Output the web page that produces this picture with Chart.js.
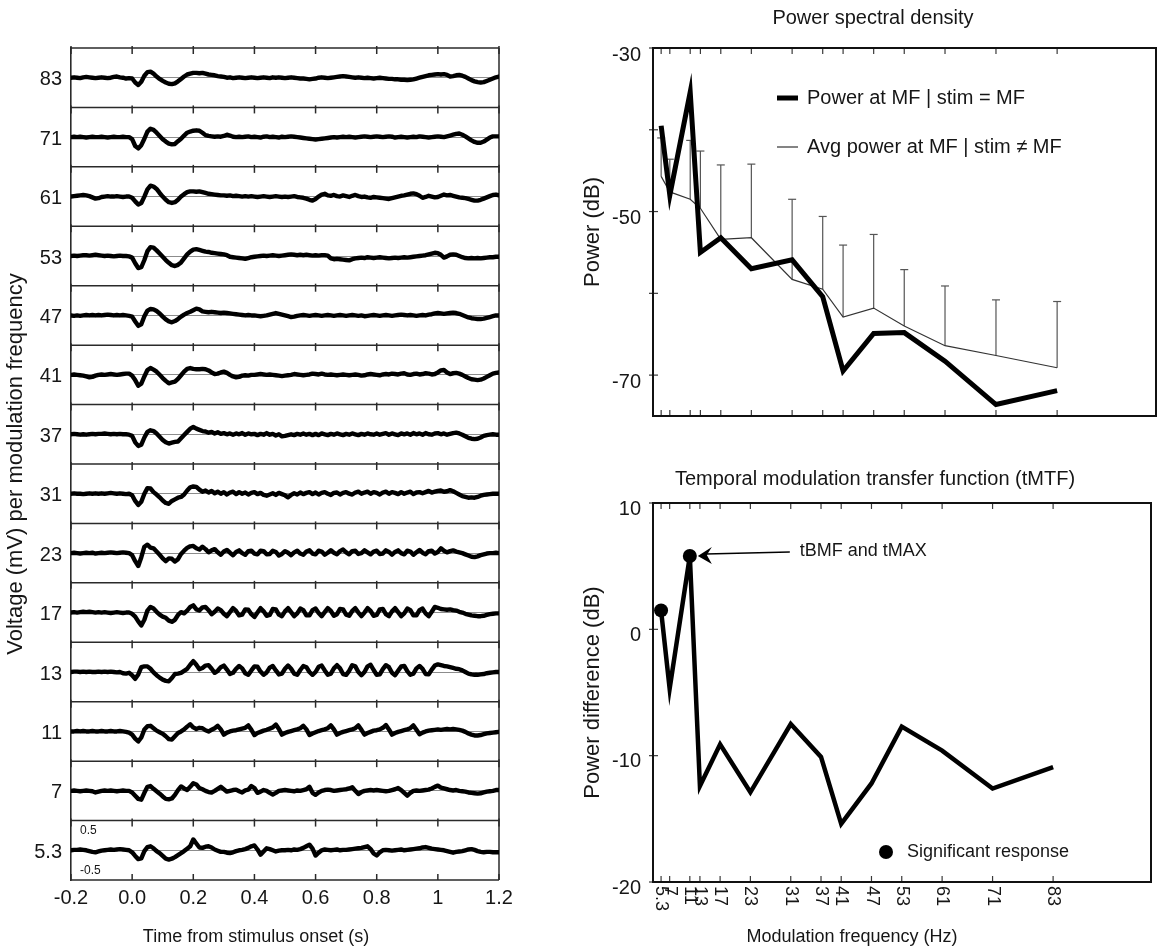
<!DOCTYPE html>
<html>
<head>
<meta charset="utf-8">
<title>Envelope following responses and tMTF</title>
<script src="https://cdn.jsdelivr.net/npm/chart.js@4.4.1/dist/chart.umd.min.js"></script>
<style>
  html, body { margin: 0; padding: 0; background: #fff; }
  body { position: relative; width: 1158px; height: 950px; overflow: hidden; }
  canvas { position: absolute; display: block; }
</style>
</head>
<body>
<canvas id="waves" width="520" height="950" style="left:0;top:0;"></canvas>
<canvas id="psd" width="588" height="440" style="left:570px;top:0;"></canvas>
<canvas id="tmtf" width="588" height="510" style="left:570px;top:440px;"></canvas>
<script>
// ---------- averaged responses, one strip per modulation frequency (top strip first) ----------
const STRIP_FREQS = ['83', '71', '61', '53', '47', '41', '37', '31', '23', '17', '13', '11', '7', '5.3'];
const TIME_START = -0.2;          // s, first sample
const TIME_STEP = 0.01;           // s, sample spacing
const TIME_TICKS = [-0.2, 0, 0.2, 0.4, 0.6, 0.8, 1, 1.2];
const TIME_TICK_LABELS = ['-0.2', '0.0', '0.2', '0.4', '0.6', '0.8', '1', '1.2'];
const STRIP_RANGE_MV = 0.74;      // each strip spans -0.74 .. 0.74 mV
const SCALE_MARKS_MV = [0.5, -0.5];

// voltages in mV
const WAVE_83 = [
  0.00, 0.01, 0.00, -0.01, 0.01, 0.02, 0.01, 0.00, -0.01, 0.00,
  0.01, 0.00, -0.01, 0.00, 0.02, 0.03, 0.01, 0.00, -0.02, -0.01,
  -0.02, -0.12, -0.18, -0.10, 0.05, 0.14, 0.15, 0.10, 0.03, -0.03,
  -0.08, -0.12, -0.15, -0.16, -0.14, -0.09, -0.03, 0.03, 0.08, 0.10,
  0.12, 0.12, 0.11, 0.12, 0.10, 0.08, 0.07, 0.06, 0.04, 0.03,
  0.02, 0.00, 0.01, -0.01, 0.00, 0.01, 0.00, -0.01, 0.00, 0.01,
  0.00, -0.01, 0.00, 0.01, 0.00, -0.01, 0.01, 0.00, 0.01, 0.00,
  -0.01, 0.00, 0.01, 0.00, -0.01, -0.02, -0.02, -0.03, -0.04, -0.03,
  -0.02, 0.00, 0.01, 0.00, -0.01, 0.00, 0.01, 0.02, 0.03, 0.04,
  0.03, 0.02, 0.01, 0.00, 0.01, 0.00, -0.01, 0.00, -0.01, -0.02,
  -0.01, 0.00, -0.01, -0.02, -0.03, -0.03, -0.04, -0.04, -0.05, -0.05,
  -0.06, -0.05, -0.04, -0.02, 0.00, 0.02, 0.04, 0.06, 0.07, 0.08,
  0.09, 0.08, 0.09, 0.07, 0.03, 0.04, 0.06, 0.07, 0.05, 0.02,
  -0.02, -0.06, -0.09, -0.11, -0.12, -0.11, -0.08, -0.05, -0.02, 0.01, 0.03
];
const WAVE_71 = [
  0.00, 0.01, 0.00, 0.01, 0.00, -0.01, 0.00, 0.01, 0.00, 0.00,
  0.01, 0.00, -0.01, 0.00, 0.01, 0.00, 0.00, 0.01, 0.00, 0.00,
  -0.05, -0.22, -0.28, -0.20, -0.04, 0.14, 0.21, 0.18, 0.11, 0.03,
  -0.05, -0.11, -0.16, -0.18, -0.17, -0.10, -0.04, 0.04, 0.11, 0.14,
  0.16, 0.17, 0.16, 0.11, 0.05, 0.03, 0.02, 0.01, 0.02, 0.01,
  0.03, 0.06, 0.04, 0.01, 0.00, 0.01, 0.00, 0.01, 0.02, 0.00,
  0.01, 0.00, -0.01, 0.01, 0.02, 0.00, 0.01, 0.00, -0.01, 0.01,
  0.00, 0.01, 0.02, 0.01, 0.00, -0.01, -0.02, -0.03, -0.04, -0.05,
  -0.06, -0.05, -0.04, -0.03, -0.02, -0.01, 0.00, -0.01, 0.00, 0.01,
  0.00, 0.01, 0.00, -0.01, 0.00, 0.01, 0.02, 0.01, 0.00, 0.01,
  0.02, 0.01, 0.00, 0.01, 0.02, 0.01, -0.01, 0.00, 0.01, 0.00,
  -0.01, 0.00, 0.01, 0.00, 0.02, 0.01, 0.00, -0.01, 0.00, 0.01,
  0.02, 0.01, 0.00, 0.02, 0.04, 0.06, 0.08, 0.09, 0.06, 0.02,
  -0.03, -0.08, -0.12, -0.14, -0.14, -0.11, -0.06, -0.01, 0.02, 0.02, 0.02
];
const WAVE_61 = [
  0.00, 0.01, 0.02, 0.03, 0.04, 0.03, 0.01, -0.02, -0.05, -0.04,
  -0.01, 0.00, 0.01, 0.00, 0.00, 0.01, 0.00, -0.01, 0.00, 0.00,
  -0.03, -0.12, -0.20, -0.16, 0.00, 0.18, 0.27, 0.25, 0.19, 0.09,
  0.00, -0.08, -0.14, -0.16, -0.14, -0.08, 0.00, 0.06, 0.11, 0.13,
  0.13, 0.12, 0.13, 0.11, 0.09, 0.07, 0.06, 0.05, 0.04, 0.03,
  0.03, 0.02, 0.03, 0.01, 0.02, 0.01, 0.00, 0.01, 0.00, 0.01,
  0.00, -0.01, 0.00, 0.01, 0.00, -0.01, 0.00, 0.01, 0.00, -0.01,
  0.00, -0.01, 0.00, 0.01, -0.01, -0.02, -0.03, -0.05, -0.08, -0.10,
  -0.06, 0.00, 0.05, 0.07, 0.03, 0.02, 0.04, 0.01, 0.00, 0.03,
  0.01, -0.01, 0.02, 0.04, 0.01, -0.01, 0.00, -0.02, -0.03, -0.01,
  -0.02, -0.03, -0.04, -0.05, -0.06, -0.04, -0.02, 0.00, 0.02, 0.03,
  0.05, 0.07, 0.08, 0.06, 0.02, -0.03, -0.01, 0.02, 0.00, -0.02,
  -0.01, 0.02, 0.05, 0.03, 0.04, 0.02, 0.00, -0.02, -0.03, -0.04,
  -0.06, -0.08, -0.10, -0.10, -0.08, -0.05, -0.02, 0.01, 0.04, 0.05, 0.03
];
const WAVE_53 = [
  0.00, 0.01, 0.00, 0.01, 0.02, 0.02, 0.01, 0.02, 0.03, 0.02,
  0.01, 0.00, 0.01, 0.00, -0.01, 0.00, 0.01, 0.00, 0.00, -0.01,
  -0.04, -0.18, -0.30, -0.28, -0.10, 0.12, 0.22, 0.21, 0.14, 0.06,
  -0.02, -0.10, -0.17, -0.23, -0.25, -0.22, -0.16, -0.06, 0.04, 0.11,
  0.16, 0.17, 0.15, 0.13, 0.11, 0.10, 0.08, 0.07, 0.06, 0.05,
  0.04, 0.02, -0.02, -0.03, -0.04, -0.05, -0.06, -0.07, -0.05, -0.03,
  -0.02, -0.01, 0.00, 0.01, 0.00, 0.01, 0.02, 0.01, 0.00, 0.01,
  0.02, 0.03, 0.04, 0.03, 0.02, 0.03, 0.02, 0.03, 0.02, 0.01,
  0.02, 0.01, 0.02, 0.02, 0.01, -0.06, -0.08, -0.07, -0.08, -0.09,
  -0.10, -0.11, -0.08, -0.06, -0.05, -0.04, -0.05, -0.03, -0.04, -0.05,
  -0.04, -0.03, -0.04, -0.05, -0.06, -0.05, -0.04, -0.05, -0.04, -0.03,
  -0.04, -0.03, -0.02, -0.01, 0.00, 0.01, 0.02, 0.04, 0.06, 0.08,
  0.07, 0.03, -0.04, -0.01, 0.03, 0.04, 0.03, 0.00, -0.03, -0.05,
  -0.06, -0.05, -0.06, -0.05, -0.06, -0.05, -0.04, -0.03, -0.03, -0.02, -0.02
];
const WAVE_47 = [
  0.00, -0.01, 0.00, -0.01, 0.00, 0.01, 0.00, 0.01, 0.00, 0.01,
  0.00, 0.01, 0.02, 0.01, 0.00, 0.01, 0.00, 0.01, 0.00, -0.01,
  -0.03, -0.15, -0.26, -0.22, -0.02, 0.12, 0.16, 0.15, 0.11, 0.05,
  -0.03, -0.10, -0.15, -0.17, -0.14, -0.09, -0.03, 0.02, 0.06, 0.09,
  0.13, 0.17, 0.15, 0.10, 0.09, 0.08, 0.09, 0.08, 0.07, 0.06,
  0.07, 0.06, 0.05, 0.04, 0.03, 0.02, 0.01, 0.00, 0.01, 0.00,
  0.00, -0.01, -0.02, -0.01, 0.00, 0.02, 0.04, 0.06, 0.04, 0.02,
  0.00, -0.02, -0.04, -0.03, -0.01, 0.00, 0.01, 0.00, -0.01, 0.00,
  0.01, 0.00, -0.01, 0.00, 0.01, 0.00, -0.01, 0.00, 0.01, 0.00,
  -0.01, 0.00, 0.01, 0.00, -0.01, 0.00, -0.02, -0.01, 0.00, 0.01,
  0.00, -0.01, 0.00, 0.01, 0.00, -0.01, 0.00, 0.01, 0.02, 0.01,
  0.00, 0.01, 0.00, -0.01, 0.00, 0.01, 0.00, 0.02, 0.03, 0.05,
  0.06, 0.05, 0.04, 0.05, 0.06, 0.07, 0.06, 0.04, 0.01, -0.02,
  -0.05, -0.07, -0.08, -0.09, -0.09, -0.08, -0.06, -0.04, -0.02, 0.00, 0.00
];
const WAVE_41 = [
  0.00, 0.01, 0.00, -0.01, -0.02, -0.04, -0.06, -0.05, -0.02, 0.00,
  0.01, 0.00, 0.01, 0.02, 0.01, 0.00, 0.01, 0.02, 0.03, 0.03,
  -0.02, -0.13, -0.27, -0.22, -0.04, 0.12, 0.17, 0.13, 0.08, 0.00,
  -0.08, -0.15, -0.21, -0.19, -0.17, -0.10, -0.01, 0.08, 0.15, 0.17,
  0.15, 0.14, 0.14, 0.15, 0.14, 0.11, 0.06, 0.02, 0.03, 0.06,
  0.08, 0.05, 0.00, -0.04, -0.06, -0.05, -0.02, -0.01, -0.02, 0.00,
  0.00, 0.01, 0.02, 0.01, 0.00, 0.01, 0.00, -0.01, -0.02, -0.03,
  -0.02, -0.01, 0.00, 0.02, 0.01, 0.00, -0.01, 0.00, 0.01, 0.03,
  0.02, 0.01, 0.03, 0.01, 0.00, 0.01, 0.00, -0.01, 0.00, 0.01,
  0.00, -0.01, 0.00, 0.01, 0.00, -0.02, -0.01, 0.01, 0.02, 0.01,
  0.00, -0.01, 0.01, 0.02, 0.01, 0.03, 0.02, 0.01, 0.03, 0.04,
  0.01, 0.00, 0.02, 0.03, 0.01, 0.02, 0.04, 0.03, 0.01, 0.02,
  0.06, 0.11, 0.12, 0.06, 0.02, 0.04, 0.05, 0.03, 0.00, -0.04,
  -0.08, -0.11, -0.12, -0.13, -0.12, -0.09, -0.05, -0.01, 0.03, 0.05, 0.06
];
const WAVE_37 = [
  0.00, 0.01, 0.00, -0.01, 0.00, -0.01, 0.00, 0.01, 0.00, 0.01,
  0.01, 0.02, 0.01, 0.00, 0.01, 0.00, 0.01, 0.00, 0.00, -0.01,
  -0.04, -0.20, -0.29, -0.26, -0.08, 0.06, 0.10, 0.08, 0.02, -0.06,
  -0.14, -0.20, -0.23, -0.21, -0.19, -0.18, -0.10, -0.02, 0.06, 0.14,
  0.18, 0.14, 0.11, 0.08, 0.07, 0.04, 0.06, 0.02, 0.05, 0.01,
  0.03, 0.00, 0.02, -0.01, 0.02, 0.00, 0.03, -0.01, 0.02, 0.00,
  0.01, -0.02, 0.01, -0.01, 0.03, -0.01, 0.01, -0.03, 0.00, -0.05,
  -0.04, -0.02, 0.00, -0.02, 0.01, -0.01, 0.02, -0.01, 0.01, -0.02,
  0.01, -0.02, 0.02, 0.00, -0.02, 0.01, -0.01, 0.02, 0.00, -0.02,
  0.01, -0.01, 0.02, 0.00, -0.02, 0.01, -0.01, 0.02, 0.00, -0.01,
  0.02, -0.01, 0.01, 0.03, -0.01, 0.02, 0.00, -0.02, 0.02, 0.00,
  0.02, -0.01, 0.03, 0.00, 0.02, -0.01, 0.03, 0.00, -0.01, 0.02,
  0.03, 0.00, 0.02, -0.01, 0.01, 0.03, 0.04, 0.02, -0.01, -0.05,
  -0.09, -0.11, -0.12, -0.11, -0.08, -0.04, -0.02, -0.01, 0.00, -0.01, -0.01
];
const WAVE_31 = [
  0.00, 0.01, 0.00, 0.00, -0.01, 0.00, 0.01, 0.00, 0.01, 0.00,
  0.01, 0.00, 0.01, 0.02, 0.01, 0.00, 0.01, 0.00, -0.01, 0.00,
  -0.04, -0.18, -0.28, -0.20, 0.00, 0.14, 0.13, 0.04, -0.02, -0.09,
  -0.17, -0.23, -0.25, -0.18, -0.14, -0.10, -0.08, -0.02, 0.08, 0.16,
  0.18, 0.17, 0.10, 0.05, 0.08, 0.03, 0.07, 0.01, 0.05, 0.00,
  0.04, -0.02, 0.03, 0.05, -0.01, 0.04, 0.00, 0.03, -0.02, 0.02,
  0.04, -0.01, 0.02, -0.03, -0.05, -0.02, 0.01, -0.03, 0.02, -0.01,
  -0.04, -0.09, -0.03, 0.01, -0.02, 0.03, -0.01, 0.02, 0.04, -0.01,
  0.03, -0.02, 0.02, 0.04, 0.00, -0.03, 0.02, 0.03, -0.02, 0.02,
  0.04, 0.00, -0.02, 0.03, 0.05, 0.00, 0.03, 0.05, 0.00, 0.04,
  0.02, -0.02, 0.03, 0.05, 0.00, 0.04, 0.02, -0.01, 0.04, 0.00,
  0.03, 0.05, -0.01, 0.03, 0.04, 0.01, 0.04, 0.07, 0.03, 0.05,
  0.07, 0.08, 0.05, 0.06, 0.09, 0.06, 0.02, -0.02, -0.06, -0.08,
  -0.10, -0.09, -0.10, -0.08, -0.05, -0.03, -0.02, -0.01, 0.00, 0.00, 0.00
];
const WAVE_23 = [
  0.00, 0.01, 0.00, -0.01, 0.00, 0.01, 0.00, 0.01, -0.01, 0.00,
  0.01, 0.00, 0.01, 0.02, 0.01, 0.00, 0.01, 0.02, 0.01, 0.00,
  -0.05, -0.20, -0.32, -0.10, 0.16, 0.21, 0.14, 0.12, 0.04, -0.04,
  -0.13, -0.20, -0.13, -0.14, -0.21, -0.15, -0.02, 0.06, 0.13, 0.17,
  0.18, 0.12, 0.09, 0.16, 0.10, 0.02, 0.07, 0.10, 0.02, -0.04,
  0.04, 0.08, 0.01, -0.05, 0.03, 0.07, 0.00, -0.04, 0.05, 0.06,
  -0.01, -0.03, 0.06, 0.05, -0.03, -0.02, 0.06, 0.03, -0.06, -0.02,
  0.05, 0.01, -0.05, 0.02, 0.06, -0.01, -0.04, 0.04, 0.07, -0.01,
  -0.03, 0.06, 0.04, -0.04, 0.01, 0.07, 0.01, -0.03, 0.05, 0.09,
  0.02, -0.03, 0.05, 0.06, -0.02, 0.00, 0.07, 0.02, -0.03, 0.04,
  0.06, -0.02, -0.01, 0.07, 0.03, -0.04, 0.03, 0.07, 0.00, -0.03,
  0.06, 0.04, -0.04, 0.02, 0.08, 0.01, -0.03, 0.05, 0.06, -0.01,
  0.03, 0.12, 0.06, 0.02, 0.05, 0.07, 0.04, 0.02, 0.00, -0.03,
  -0.06, -0.09, -0.10, -0.08, -0.05, -0.03, -0.01, 0.00, 0.00, 0.01, 0.00
];
const WAVE_17 = [
  0.00, 0.01, 0.00, 0.01, 0.02, 0.01, 0.02, 0.01, 0.00, 0.01,
  0.00, 0.01, 0.00, -0.01, 0.00, 0.01, 0.00, -0.01, 0.00, 0.00,
  -0.03, -0.10, -0.22, -0.32, -0.18, 0.05, 0.14, 0.10, 0.02, -0.05,
  -0.10, -0.13, -0.20, -0.23, -0.18, -0.06, 0.01, -0.02, 0.05, 0.14,
  0.18, 0.08, 0.05, 0.13, 0.14, 0.06, -0.04, 0.02, 0.10, 0.06,
  -0.03, -0.09, 0.01, 0.11, 0.04, -0.07, -0.05, 0.08, 0.07, -0.04,
  -0.11, 0.00, 0.11, 0.03, -0.08, -0.06, 0.09, 0.08, -0.05, -0.09,
  0.03, 0.11, 0.01, -0.09, -0.02, 0.10, 0.06, -0.07, -0.07, 0.06,
  0.10, -0.01, -0.09, 0.01, 0.11, 0.04, -0.08, -0.04, 0.09, 0.08,
  -0.05, -0.08, 0.04, 0.11, 0.00, -0.09, 0.00, 0.11, 0.04, -0.08,
  -0.06, 0.08, 0.09, -0.04, -0.09, 0.03, 0.11, 0.01, -0.09, -0.02,
  0.10, 0.06, -0.07, -0.07, 0.06, 0.10, -0.02, -0.09, 0.02, 0.14,
  0.12, 0.09, 0.08, 0.07, 0.08, 0.06, 0.05, 0.02, 0.00, -0.03,
  -0.05, -0.07, -0.08, -0.09, -0.09, -0.08, -0.06, -0.04, -0.03, -0.02, -0.02
];
const WAVE_13 = [
  0.00, 0.01, 0.01, 0.00, 0.01, 0.00, 0.01, 0.00, 0.00, 0.01,
  0.00, 0.01, 0.00, 0.01, 0.00, -0.01, 0.00, -0.03, -0.04, -0.02,
  -0.08, -0.17, -0.06, 0.12, 0.14, 0.14, 0.08, -0.01, -0.08, -0.14,
  -0.19, -0.22, -0.23, -0.15, -0.05, -0.04, -0.02, 0.03, 0.08, 0.18,
  0.27, 0.18, 0.07, 0.10, 0.16, 0.17, 0.08, -0.02, 0.03, 0.12,
  0.16, 0.06, -0.05, -0.02, 0.08, 0.15, 0.09, -0.03, -0.07, 0.04,
  0.14, 0.13, 0.01, -0.07, -0.01, 0.11, 0.15, 0.04, -0.06, -0.04,
  0.08, 0.16, 0.08, -0.04, -0.07, 0.05, 0.15, 0.12, 0.00, -0.07,
  0.00, 0.13, 0.16, 0.04, -0.07, -0.04, 0.09, 0.17, 0.09, -0.05,
  -0.07, 0.03, 0.17, 0.14, 0.00, -0.08, 0.00, 0.14, 0.18, 0.05,
  -0.07, -0.06, 0.07, 0.17, 0.12, -0.02, -0.08, 0.03, 0.14, 0.15,
  0.02, -0.07, -0.04, 0.09, 0.15, 0.08, -0.05, -0.06, 0.06, 0.16,
  0.19, 0.17, 0.15, 0.14, 0.12, 0.10, 0.08, 0.07, 0.04, 0.00,
  -0.04, -0.06, -0.07, -0.07, -0.06, -0.05, -0.03, -0.02, -0.01, 0.00, 0.00
];
const WAVE_11 = [
  0.00, 0.00, 0.01, 0.00, 0.01, 0.00, 0.00, 0.01, 0.00, 0.00,
  0.01, 0.00, 0.00, 0.01, 0.00, 0.00, 0.01, 0.00, -0.01, -0.03,
  -0.08, -0.18, -0.25, -0.15, 0.05, 0.13, 0.14, 0.08, 0.02, -0.02,
  -0.06, -0.12, -0.19, -0.20, -0.12, -0.04, 0.00, 0.05, 0.12, 0.18,
  0.10, 0.06, 0.09, 0.08, 0.03, 0.00, 0.04, 0.08, 0.14, 0.05,
  -0.08, -0.03, 0.00, 0.02, 0.03, 0.05, 0.07, 0.09, 0.15, 0.04,
  -0.09, -0.04, -0.01, 0.02, 0.04, 0.07, 0.10, 0.17, 0.06, -0.08,
  -0.04, -0.01, 0.01, 0.03, 0.05, 0.08, 0.14, 0.05, -0.09, -0.05,
  -0.02, 0.01, 0.03, 0.05, 0.08, 0.15, 0.05, -0.08, -0.04, -0.01,
  0.01, 0.03, 0.05, 0.08, 0.15, 0.04, -0.08, -0.04, -0.01, 0.02,
  0.03, 0.05, 0.09, 0.16, 0.05, -0.08, -0.04, -0.01, 0.01, 0.03,
  0.05, 0.08, 0.15, 0.04, -0.07, -0.03, 0.00, 0.02, 0.03, 0.04,
  0.05, 0.04, 0.05, 0.06, 0.05, 0.06, 0.05, 0.04, 0.02, -0.01,
  -0.05, -0.08, -0.10, -0.10, -0.09, -0.07, -0.05, -0.04, -0.03, -0.02, -0.01
];
const WAVE_7 = [
  0.00, 0.01, 0.00, -0.01, 0.00, 0.01, 0.00, -0.01, -0.04, -0.02,
  0.00, 0.01, 0.00, 0.01, 0.00, -0.01, 0.00, 0.01, 0.00, 0.00,
  -0.04, -0.12, -0.20, -0.22, -0.05, 0.10, 0.12, 0.05, -0.01, -0.07,
  -0.14, -0.20, -0.21, -0.19, -0.10, 0.02, 0.11, 0.06, 0.02, 0.10,
  0.19, 0.16, 0.07, 0.04, 0.00, -0.03, -0.04, 0.00, 0.05, 0.10,
  0.04, -0.02, 0.00, 0.02, 0.03, -0.01, -0.04, 0.01, 0.03, 0.12,
  0.07, -0.05, -0.02, 0.02, 0.00, -0.05, -0.09, -0.05, 0.00, 0.01,
  0.02, 0.01, 0.00, -0.01, 0.01, 0.00, 0.02, 0.04, 0.10, -0.05,
  -0.10, -0.04, 0.00, 0.02, 0.03, 0.02, 0.00, 0.01, 0.02, 0.03,
  0.04, 0.06, 0.09, 0.00, -0.08, -0.03, 0.00, 0.01, 0.02, 0.01,
  0.02, 0.01, 0.00, -0.01, 0.00, 0.02, 0.04, 0.07, 0.02, -0.05,
  -0.12, -0.05, 0.00, 0.01, 0.00, 0.01, 0.02, 0.03, 0.06, 0.10,
  0.13, 0.08, 0.06, 0.04, 0.02, 0.01, 0.02, 0.00, -0.01, -0.02,
  -0.04, -0.05, -0.06, -0.07, -0.06, -0.04, -0.02, -0.01, 0.00, 0.02, 0.02
];
const WAVE_5_3 = [
  0.00, 0.01, 0.01, 0.02, 0.01, 0.00, -0.02, -0.04, -0.05, -0.03,
  -0.01, 0.00, 0.01, 0.02, 0.01, 0.02, 0.03, 0.02, 0.01, 0.00,
  -0.05, -0.14, -0.22, -0.20, -0.02, 0.08, 0.10, 0.05, -0.02, -0.07,
  -0.14, -0.21, -0.23, -0.21, -0.17, -0.12, -0.07, -0.02, 0.04, 0.10,
  0.27, 0.17, 0.07, 0.06, 0.09, 0.10, 0.07, 0.02, -0.01, -0.04,
  -0.04, -0.06, -0.07, -0.05, -0.02, 0.00, 0.01, 0.03, 0.06, 0.10,
  0.12, 0.02, -0.11, -0.03, 0.05, 0.03, 0.00, -0.03, -0.01, 0.00,
  0.00, 0.01, 0.00, 0.02, 0.01, 0.03, 0.06, 0.10, 0.14, 0.04,
  -0.13, -0.06, 0.00, 0.02, 0.01, 0.00, 0.01, 0.02, 0.00, 0.01,
  0.01, 0.02, 0.03, 0.04, 0.05, 0.06, 0.08, 0.10, 0.03, -0.08,
  -0.13, -0.05, 0.00, 0.01, 0.00, -0.01, 0.00, 0.01, 0.02, 0.00,
  0.01, 0.02, 0.03, 0.04, 0.05, 0.07, 0.08, 0.06, 0.04, 0.03,
  0.02, 0.01, 0.00, -0.02, -0.04, -0.06, -0.04, -0.03, -0.02, 0.00,
  0.02, 0.03, 0.01, -0.02, -0.04, -0.05, -0.04, -0.04, -0.05, -0.05, -0.05
];
const WAVES = {
  '83': WAVE_83, '71': WAVE_71, '61': WAVE_61, '53': WAVE_53, '47': WAVE_47,
  '41': WAVE_41, '37': WAVE_37, '31': WAVE_31, '23': WAVE_23, '17': WAVE_17,
  '13': WAVE_13, '11': WAVE_11, '7': WAVE_7, '5.3': WAVE_5_3
};

// ---------- spectral summary per modulation frequency ----------
const MF_HZ = [5.3, 7, 11, 13, 17, 23, 31, 37, 41, 47, 53, 61, 71, 83];
const MF_LABELS = ['5.3', '7', '11', '13', '17', '23', '31', '37', '41', '47', '53', '61', '71', '83'];
const FREQ_MIN = 3.7;
const FREQ_MAX = 102.4;
const PSD_STIM_DB  = [-39.5, -48.0, -35.4, -55.0, -53.2, -57.0, -55.9, -60.4, -69.5, -64.9, -64.8, -68.3, -73.6, -71.9];
const PSD_OTHER_DB = [-45.7, -47.6, -48.5, -49.6, -53.4, -53.2, -58.3, -59.5, -62.9, -61.8, -64.0, -66.4, -67.6, -69.1];
const PSD_OTHER_SD = [4.7, 4.0, 7.2, 7.0, 9.1, 9.0, 9.8, 8.9, 8.8, 9.0, 6.9, 7.3, 6.8, 8.1];
const PSD_TICKS = [-70, -60, -50, -40, -30];
const PSD_LABELED = [-70, -50, -30];
const TMTF_DB = [1.5, -4.7, 5.8, -12.4, -9.1, -12.9, -7.5, -10.1, -15.4, -12.2, -7.7, -9.6, -12.6, -10.9];
const SIGNIFICANT = [true, false, true, false, false, false, false, false, false, false, false, false, false, false];
const TMTF_TICKS = [-20, -10, 0, 10];
const BEST_MF_INDEX = 2;   // tBMF and tMAX

// ---------- shared styling ----------
const FONT = '"Liberation Sans", Arial, Helvetica, sans-serif';
const INK = '#161616';
Chart.defaults.font.family = FONT;
Chart.defaults.font.size = 20;
Chart.defaults.color = INK;

const baseOptions = {
  responsive: false,
  animation: false,
  events: [],
  plugins: { legend: { display: false }, tooltip: { enabled: false } }
};

function drawText(ctx, text, x, y, size, align, rotation) {
  ctx.save();
  ctx.fillStyle = INK;
  ctx.font = size + 'px ' + FONT;
  ctx.textAlign = align || 'center';
  ctx.textBaseline = 'middle';
  ctx.translate(x, y);
  if (rotation) ctx.rotate(rotation);
  ctx.fillText(text, 0, 0);
  ctx.restore();
}

// ================= left panel: stacked response strips =================
const bottomUp = STRIP_FREQS.slice().reverse();   // 5.3 Hz strip at the bottom
const stripIds = bottomUp.map((f, k) => 'strip' + k);

const waveScales = {
  x: {
    type: 'linear', position: 'bottom', min: -0.2, max: 1.2,
    grid: { display: false, drawTicks: false },
    border: { display: false },
    afterBuildTicks: s => { s.ticks = TIME_TICKS.map(v => ({ value: v })); },
    afterFit: s => { s.height = 70; },
    ticks: {
      autoSkip: false, maxRotation: 0, minRotation: 0, padding: 6,
      font: { size: 20 },
      callback: (v, i) => TIME_TICK_LABELS[i]
    }
  }
};
bottomUp.forEach((f, k) => {
  waveScales[stripIds[k]] = {
    type: 'linear', position: 'left', stack: 'strips', stackWeight: 1, weight: k,
    min: -STRIP_RANGE_MV, max: STRIP_RANGE_MV,
    grid: { display: true, drawTicks: false, color: '#8c8c8c', lineWidth: 1 },
    border: { display: true, color: '#2a2a2a', width: 1.6 },
    afterBuildTicks: s => { s.ticks = [{ value: 0 }]; },
    afterFit: s => { s.width = 71; },
    ticks: { padding: 9, labelOffset: 2, font: { size: 20 }, callback: () => f }
  };
});

const stripFrame = {
  id: 'stripFrame',
  beforeDatasetsDraw(chart) {
    const { ctx, chartArea: a, scales } = chart;
    const xs = scales.x;
    ctx.save();
    ctx.strokeStyle = '#2a2a2a';
    ctx.lineWidth = 1.5;
    stripIds.forEach(id => {
      const y = scales[id].top;
      ctx.beginPath(); ctx.moveTo(a.left, y); ctx.lineTo(a.right, y); ctx.stroke();
      TIME_TICKS.forEach(t => {
        const x = xs.getPixelForValue(t);
        ctx.beginPath(); ctx.moveTo(x, y - 2); ctx.lineTo(x, y + 6); ctx.stroke();
      });
    });
    ctx.beginPath(); ctx.moveTo(a.left, a.bottom); ctx.lineTo(a.right, a.bottom); ctx.stroke();
    TIME_TICKS.forEach(t => {
      const x = xs.getPixelForValue(t);
      ctx.beginPath(); ctx.moveTo(x, a.bottom - 6); ctx.lineTo(x, a.bottom); ctx.stroke();
    });
    ctx.beginPath(); ctx.moveTo(a.right, a.top); ctx.lineTo(a.right, a.bottom); ctx.stroke();
    ctx.restore();
  },
  afterDraw(chart) {
    const { ctx, chartArea: a, scales } = chart;
    // voltage scale marks on the lowest strip
    const low = scales[stripIds[0]];
    SCALE_MARKS_MV.forEach(v => drawText(ctx, String(v), a.left + 9, low.getPixelForValue(v), 12, 'left'));
    // shared axis titles
    drawText(ctx, 'Voltage (mV) per modulation frequency', 16, (a.top + a.bottom) / 2, 22, 'center', -Math.PI / 2);
    drawText(ctx, 'Time from stimulus onset (s)', 256, 937, 18, 'center');
  }
};

new Chart(document.getElementById('waves'), {
  type: 'line',
  data: {
    datasets: bottomUp.map((f, k) => ({
      label: f + ' Hz',
      yAxisID: stripIds[k],
      data: WAVES[f].map((v, i) => ({ x: TIME_START + i * TIME_STEP, y: v })),
      borderColor: '#000',
      borderWidth: 4.4,
      borderJoinStyle: 'round',
      borderCapStyle: 'round',
      pointRadius: 0,
      tension: 0
    }))
  },
  options: Object.assign({}, baseOptions, {
    layout: { padding: { left: 0, right: 21, top: 48, bottom: 0 } },
    scales: waveScales
  }),
  plugins: [stripFrame]
});

// ================= right panels =================
function boxFrame(yTicks) {
  return {
    id: 'boxFrame',
    beforeDatasetsDraw(chart) {
      const { ctx, chartArea: a, scales } = chart;
      ctx.save();
      ctx.strokeStyle = '#3a3a3a';
      ctx.lineWidth = 1.2;
      MF_HZ.forEach(f => {
        const x = scales.x.getPixelForValue(f);
        ctx.beginPath(); ctx.moveTo(x, a.top); ctx.lineTo(x, a.top + 6); ctx.stroke();
        ctx.beginPath(); ctx.moveTo(x, a.bottom); ctx.lineTo(x, a.bottom - 6); ctx.stroke();
      });
      yTicks.forEach(v => {
        const y = scales.y.getPixelForValue(v);
        ctx.beginPath(); ctx.moveTo(a.left - 4, y); ctx.lineTo(a.left + 5, y); ctx.stroke();
      });
      ctx.restore();
    },
    afterDraw(chart) {
      const { ctx, chartArea: a } = chart;
      ctx.save();
      ctx.strokeStyle = '#111';
      ctx.lineWidth = 2;
      ctx.strokeRect(a.left, a.top, a.right - a.left, a.bottom - a.top);
      ctx.restore();
    }
  };
}

function heading(text, x, y) {
  return {
    id: 'heading',
    afterDraw(chart) { drawText(chart.ctx, text, x, y, 20, 'center'); }
  };
}

const errorBars = {
  id: 'errorBars',
  beforeDatasetsDraw(chart) {
    const { ctx, scales } = chart;
    ctx.save();
    ctx.strokeStyle = '#555';
    ctx.lineWidth = 1.2;
    MF_HZ.forEach((f, i) => {
      const x = scales.x.getPixelForValue(f);
      const y0 = scales.y.getPixelForValue(PSD_OTHER_DB[i]);
      const y1 = scales.y.getPixelForValue(PSD_OTHER_DB[i] + PSD_OTHER_SD[i]);
      ctx.beginPath(); ctx.moveTo(x, y0); ctx.lineTo(x, y1); ctx.stroke();
      ctx.beginPath(); ctx.moveTo(x - 4, y1); ctx.lineTo(x + 4, y1); ctx.stroke();
    });
    ctx.restore();
  }
};

const psdLegend = {
  id: 'psdLegend',
  afterDraw(chart) {
    const ctx = chart.ctx;
    chart.data.datasets.forEach((d, i) => {
      const y = 98 + i * 49;
      ctx.save();
      ctx.strokeStyle = d.borderColor;
      ctx.lineWidth = d.borderWidth;
      ctx.beginPath(); ctx.moveTo(207, y); ctx.lineTo(228, y); ctx.stroke();
      ctx.restore();
      drawText(ctx, d.label, 237, y, 20, 'left');
    });
  }
};

new Chart(document.getElementById('psd'), {
  type: 'line',
  data: {
    datasets: [
      {
        label: 'Power at MF | stim = MF',
        data: MF_HZ.map((f, i) => ({ x: f, y: PSD_STIM_DB[i] })),
        borderColor: '#000', borderWidth: 5, borderJoinStyle: 'miter', pointRadius: 0, tension: 0
      },
      {
        label: 'Avg power at MF | stim \u2260 MF',
        data: MF_HZ.map((f, i) => ({ x: f, y: PSD_OTHER_DB[i] })),
        borderColor: '#333', borderWidth: 1.2, pointRadius: 0, tension: 0
      }
    ]
  },
  options: Object.assign({}, baseOptions, {
    layout: { padding: { left: 0, right: 2, top: 48, bottom: 0 } },
    scales: {
      x: {
        type: 'linear', min: FREQ_MIN, max: FREQ_MAX,
        grid: { display: false, drawTicks: false }, border: { display: false },
        ticks: { display: false },
        afterFit: s => { s.height = 12; }
      },
      y: {
        type: 'linear', min: -75, max: -30,
        grid: { display: false, drawTicks: false }, border: { display: false },
        afterBuildTicks: s => { s.ticks = PSD_TICKS.map(v => ({ value: v })); },
        afterFit: s => { s.width = 83; },
        ticks: { padding: 12, labelOffset: 7, font: { size: 20 }, callback: v => PSD_LABELED.includes(v) ? String(v) : '' },
        title: { display: true, text: 'Power (dB)', font: { size: 22 }, padding: { top: 10, bottom: 0 } }
      }
    }
  }),
  plugins: [boxFrame(PSD_TICKS), errorBars, psdLegend, heading('Power spectral density', 303, 18)]
});

const mfTickLabels = {
  id: 'mfTickLabels',
  afterDraw(chart) {
    const { ctx, chartArea: a, scales } = chart;
    MF_HZ.forEach((f, i) => {
      drawText(ctx, MF_LABELS[i], scales.x.getPixelForValue(f), a.bottom + 4, 18, 'left', Math.PI / 2);
    });
    drawText(ctx, 'Modulation frequency (Hz)', 282, 497, 18, 'center');
  }
};

const tmtfNotes = {
  id: 'tmtfNotes',
  afterDraw(chart) {
    const { ctx, scales } = chart;
    const px = scales.x.getPixelForValue(MF_HZ[BEST_MF_INDEX]);
    const py = scales.y.getPixelForValue(TMTF_DB[BEST_MF_INDEX]);
    ctx.save();
    // arrow pointing at the best modulation frequency
    const tip = px + 8;
    ctx.strokeStyle = '#000';
    ctx.fillStyle = '#000';
    ctx.lineWidth = 1.6;
    ctx.beginPath(); ctx.moveTo(tip + 8, py - 2); ctx.lineTo(px + 100, py - 4); ctx.stroke();
    ctx.beginPath();
    ctx.moveTo(tip, py);
    ctx.lineTo(tip + 14, py - 9);
    ctx.lineTo(tip + 9, py - 1);
    ctx.lineTo(tip + 14, py + 8);
    ctx.closePath();
    ctx.fill();
    // key for significant responses
    ctx.beginPath(); ctx.arc(316, 412, 7, 0, Math.PI * 2); ctx.fill();
    ctx.restore();
    drawText(ctx, 'tBMF and tMAX', px + 110, py - 5, 18, 'left');
    drawText(ctx, 'Significant response', 337, 412, 18, 'left');
  }
};

new Chart(document.getElementById('tmtf'), {
  type: 'line',
  data: {
    datasets: [{
      label: 'tMTF',
      data: MF_HZ.map((f, i) => ({ x: f, y: TMTF_DB[i] })),
      borderColor: '#000', borderWidth: 4.5, borderJoinStyle: 'miter', tension: 0,
      pointRadius: SIGNIFICANT.map(s => s ? 7 : 0),
      pointBackgroundColor: '#000', pointBorderWidth: 0
    }]
  },
  options: Object.assign({}, baseOptions, {
    layout: { padding: { left: 0, right: 2, top: 63, bottom: 0 } },
    scales: {
      x: {
        type: 'linear', min: FREQ_MIN, max: FREQ_MAX,
        grid: { display: false, drawTicks: false }, border: { display: false },
        ticks: { display: false },
        afterFit: s => { s.height = 68; }
      },
      y: {
        type: 'linear', min: -20, max: 10,
        grid: { display: false, drawTicks: false }, border: { display: false },
        afterBuildTicks: s => { s.ticks = TMTF_TICKS.map(v => ({ value: v })); },
        afterFit: s => { s.width = 83; },
        ticks: { padding: 12, labelOffset: 6, font: { size: 20 }, callback: v => String(v) },
        title: { display: true, text: 'Power difference (dB)', font: { size: 22 }, padding: { top: 10, bottom: 0 } }
      }
    }
  }),
  plugins: [boxFrame(TMTF_TICKS), mfTickLabels, tmtfNotes, heading('Temporal modulation transfer function (tMTF)', 305, 39)]
});
</script>
</body>
</html>
